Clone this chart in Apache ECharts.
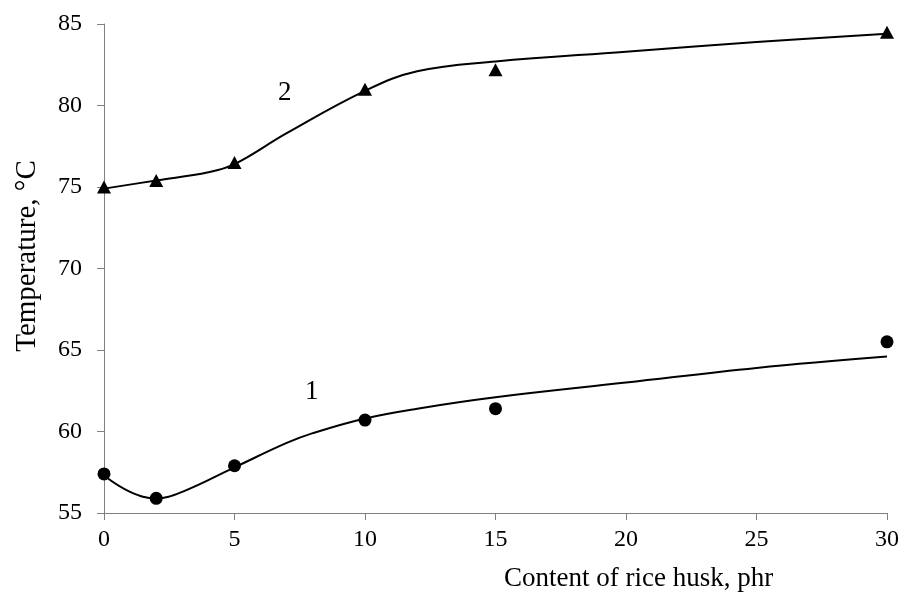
<!DOCTYPE html>
<html>
<head>
<meta charset="utf-8">
<script src="https://cdn.jsdelivr.net/npm/echarts@6/dist/echarts.min.js"></script>
<style>
html,body{margin:0;padding:0;background:#fff}
#chart{width:902px;height:599px}
</style>
</head>
<body>
<div id="chart"></div>
<script>
// measured points
var xPts=[0,2,5,10,15,30];
var temp1=[57.4,55.9,57.9,60.7,61.4,65.5];
var temp2=[75.0,75.4,76.5,81.0,82.2,84.5];
// trend curves
var fitX1=[0,1,2,3,5,7,8,10,12,15,20,25,30];
var fit1=[57.3,56.3,55.9,56.3,57.8,59.3,59.9,60.8,61.4,62.1,63.0,63.9,64.6];
var fitX2=[0,2,4,5,7,10,12,15,20,25,30];
var fit2=[74.9,75.4,75.9,76.4,78.3,80.9,82.1,82.7,83.3,83.9,84.4];
var xTicks=[0,5,10,15,20,25,30];
var yTicks=[55,60,65,70,75,80,85];

function pairs(xs,ys){
	return xs.map(function(x,i){return [x,ys[i]];});
}

var font='"Liberation Serif","Times New Roman",serif';
var chart=echarts.init(document.getElementById('chart'));
var option={
	animation:false,
	backgroundColor:'#fff',
	grid:{left:104,right:13,top:24,bottom:86},
	xAxis:{
		type:'value',min:xTicks[0],max:xTicks[xTicks.length-1],interval:5,
		splitLine:{show:false},
		axisLine:{lineStyle:{color:'#808080',width:1}},
		axisTick:{length:7,lineStyle:{color:'#808080'}},
		axisLabel:{color:'#000',fontFamily:font,fontSize:24,margin:15}
	},
	yAxis:{
		type:'value',min:yTicks[0],max:yTicks[yTicks.length-1],interval:5,
		splitLine:{show:false},
		axisLine:{show:true,lineStyle:{color:'#808080',width:1}},
		axisTick:{show:true,length:7,lineStyle:{color:'#808080'}},
		axisLabel:{color:'#000',fontFamily:font,fontSize:24,margin:22}
	},
	series:[
		{type:'line',data:pairs(fitX1,fit1),smooth:0.4,showSymbol:false,
			lineStyle:{color:'#000',width:2}},
		{type:'line',data:pairs(fitX2,fit2),smooth:0.4,showSymbol:false,
			lineStyle:{color:'#000',width:2}},
		{type:'scatter',data:pairs(xPts,temp1),symbol:'circle',symbolSize:13,
			itemStyle:{color:'#000',opacity:1}},
		{type:'scatter',data:pairs(xPts,temp2),symbol:'triangle',symbolSize:[14,13],
			itemStyle:{color:'#000',opacity:1}}
	],
	graphic:[
		{type:'text',left:278,top:79,style:{text:'2',font:'27px '+font,fill:'#000'}},
		{type:'text',left:305,top:378,style:{text:'1',font:'27px '+font,fill:'#000'}},
		{type:'text',left:504,top:565,style:{text:'Content of rice husk, phr',font:'27px '+font,fill:'#000'}},
		{type:'text',x:27,y:256,rotation:Math.PI/2,
			style:{text:'Temperature, °C',font:'29px '+font,fill:'#000',align:'center',verticalAlign:'middle'}}
	]
};
chart.setOption(option);
</script>
</body>
</html>
